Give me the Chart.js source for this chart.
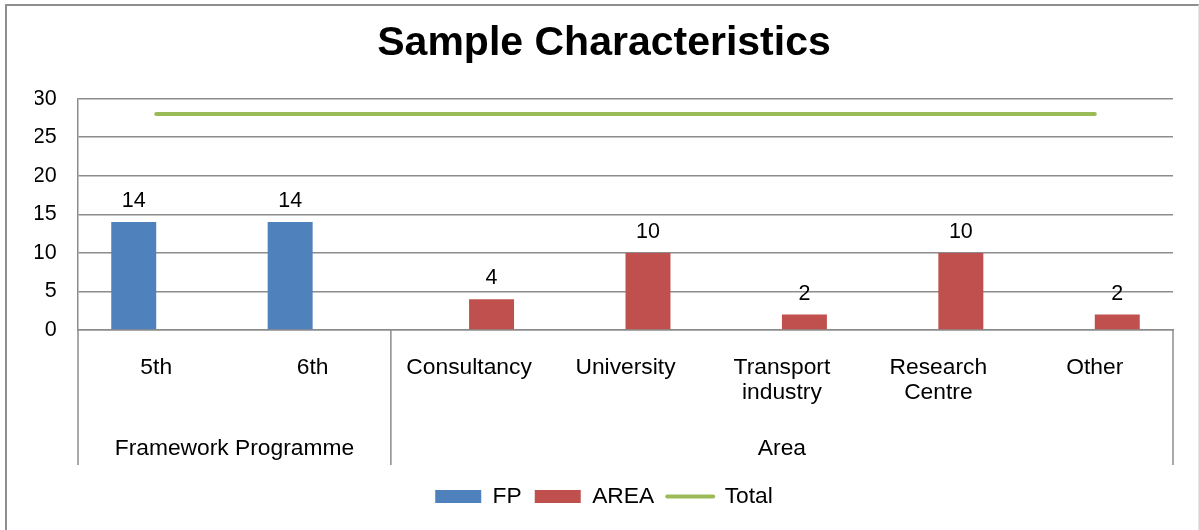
<!DOCTYPE html>
<html>
<head>
<meta charset="utf-8">
<script src="https://cdn.jsdelivr.net/npm/chart.js@4"></script>
<style>
  html, body { margin: 0; padding: 0; background: #ffffff; }
  body { width: 1199px; height: 530px; position: relative; overflow: hidden; }
  #frame {
    position: absolute; left: 5px; top: 4px; width: 1191px; height: 600px;
    border-top: 2px solid #8e8e8e; border-left: 2px solid #8e8e8e; border-right: 1px solid #e4e4e4;
  }
  #chart { position: absolute; left: 0; top: 0; }
</style>
</head>
<body>
<div id="frame"></div>
<canvas id="chart" width="1199" height="530"></canvas>
<script>
// Categories on the x axis (multi-line names as arrays)
const categories = ['5th', '6th', 'Consultancy', 'University', ['Transport', 'industry'], ['Research', 'Centre'], 'Other'];

// Outer grouping of the categories
const groupLabels = ['Framework Programme', 'Area'];
const groupSizes = [2, 5];

// Series values
const fpValues = [14, 14, null, null, null, null, null];
const areaValues = [null, null, 4, 10, 2, 10, 2];
const totalValues = [28, 28, 28, 28, 28, 28, 28];

// Value axis
const yMin = 0;
const yMax = 30;
const yStep = 5;

const FONT = "'Liberation Sans', Arial, sans-serif";
const GRID = '#8c8c8c';
const LABEL_SIZE = 22.8;

// Numbers above the bars
const barValueLabels = {
  id: 'barValueLabels',
  afterDatasetsDraw(chart) {
    const ctx = chart.ctx;
    ctx.save();
    ctx.font = '21.5px ' + FONT;
    ctx.fillStyle = '#000000';
    ctx.textAlign = 'center';
    ctx.textBaseline = 'middle';
    [0, 1].forEach(di => {
      const meta = chart.getDatasetMeta(di);
      const data = chart.data.datasets[di].data;
      meta.data.forEach((bar, i) => {
        if (data[i] === null || data[i] === undefined) return;
        ctx.fillText(String(data[i]), bar.x, bar.y - 21);
      });
    });
    ctx.restore();
  }
};

// Second row of the category axis: separators and group names
const groupAxis = {
  id: 'groupAxis',
  afterDraw(chart) {
    const ctx = chart.ctx;
    const x = chart.scales.x;
    const area = chart.chartArea;
    const bottom = 465;
    const half = (x.getPixelForValue(1) - x.getPixelForValue(0)) / 2;
    const edges = [area.left];
    let idx = 0;
    groupSizes.forEach(n => {
      idx += n;
      edges.push(idx >= categories.length ? area.right : x.getPixelForValue(idx) - half);
    });
    ctx.save();
    ctx.strokeStyle = GRID;
    ctx.lineWidth = 1.5;
    edges.forEach(px => {
      ctx.beginPath();
      ctx.moveTo(px, area.bottom);
      ctx.lineTo(px, bottom);
      ctx.stroke();
    });
    ctx.font = LABEL_SIZE + 'px ' + FONT;
    ctx.fillStyle = '#000000';
    ctx.textAlign = 'center';
    ctx.textBaseline = 'middle';
    groupLabels.forEach((g, i) => {
      ctx.fillText(g, (edges[i] + edges[i + 1]) / 2, 449);
    });
    ctx.restore();
  }
};

new Chart(document.getElementById('chart'), {
  type: 'bar',
  data: {
    labels: categories,
    datasets: [
      {
        label: 'FP',
        data: fpValues,
        backgroundColor: '#4F81BD',
        borderWidth: 0,
        categoryPercentage: 0.575,
        barPercentage: 1
      },
      {
        label: 'AREA',
        data: areaValues,
        backgroundColor: '#C0504D',
        borderWidth: 0,
        categoryPercentage: 0.575,
        barPercentage: 1
      },
      {
        type: 'line',
        label: 'Total',
        data: totalValues,
        borderColor: '#9BBB59',
        backgroundColor: '#9BBB59',
        borderWidth: 4,
        borderCapStyle: 'round',
        pointRadius: 0,
        pointHoverRadius: 0,
        fill: false
      }
    ]
  },
  options: {
    responsive: false,
    animation: false,
    devicePixelRatio: 1,
    layout: { padding: { left: 35, right: 26, top: 0, bottom: 12 } },
    plugins: {
      title: {
        display: true,
        text: 'Sample Characteristics',
        color: '#000000',
        font: { family: FONT, size: 41, weight: 'bold', lineHeight: 1.2 },
        padding: { top: 19.4, bottom: 30.1 }
      },
      legend: {
        display: true,
        position: 'bottom',
        labels: {
          color: '#000000',
          font: { family: FONT, size: LABEL_SIZE },
          usePointStyle: true,
          pointStyleWidth: 46,
          boxHeight: 13,
          padding: 13,
          generateLabels(chart) {
            const items = Chart.defaults.plugins.legend.labels.generateLabels(chart);
            items.sort((a, b) => a.datasetIndex - b.datasetIndex);
            items.forEach(it => {
              const ds = chart.data.datasets[it.datasetIndex];
              if (ds.type === 'line') {
                it.pointStyle = 'line';
                it.lineWidth = 4;
                it.strokeStyle = ds.borderColor;
                it.lineCap = 'round';
              } else {
                it.pointStyle = 'rect';
                it.fillStyle = ds.backgroundColor;
                it.lineWidth = 0;
              }
            });
            return items;
          }
        }
      },
      tooltip: { enabled: false }
    },
    scales: {
      x: {
        grid: { display: false, drawTicks: false },
        border: { display: true, color: GRID, width: 1.5 },
        ticks: {
          color: '#000000',
          font: { family: FONT, size: LABEL_SIZE, lineHeight: 1.1 },
          padding: 25.5,
          maxRotation: 0,
          autoSkip: false
        },
        afterFit(scale) { scale.height = 142.2; }
      },
      y: {
        min: yMin,
        max: yMax,
        grid: { color: GRID, lineWidth: 1.5, drawTicks: false },
        border: { display: true, color: GRID, width: 1.5 },
        ticks: {
          stepSize: yStep,
          color: '#000000',
          font: { family: FONT, size: 21.5 },
          padding: 21.3
        },
        afterFit(scale) { scale.width = 43; }
      }
    }
  },
  plugins: [barValueLabels, groupAxis]
});
</script>
</body>
</html>
